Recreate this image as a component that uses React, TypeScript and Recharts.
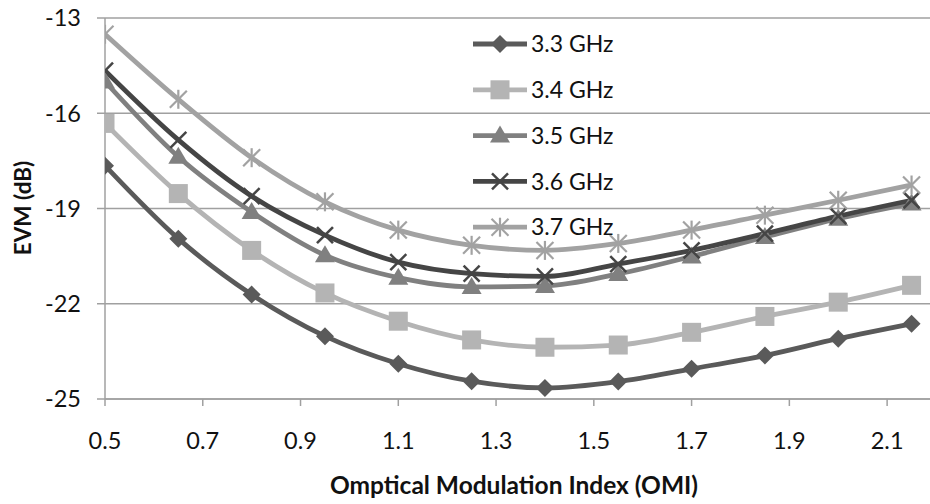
import React from "react";
import { LineChart, Line, XAxis, YAxis, CartesianGrid, Label } from "recharts";

const omi = [0.5, 0.65, 0.8, 0.95, 1.1, 1.25, 1.4, 1.55, 1.7, 1.85, 2.0, 2.15];
const evm33 = [-17.65, -19.95, -21.71, -23.02, -23.89, -24.44, -24.65, -24.45, -24.05, -23.63, -23.1, -22.63];
const evm34 = [-16.32, -18.53, -20.32, -21.66, -22.55, -23.14, -23.37, -23.3, -22.9, -22.4, -21.95, -21.42];
const evm35 = [-15.0, -17.37, -19.11, -20.47, -21.18, -21.47, -21.44, -21.06, -20.51, -19.9, -19.32, -18.84];
const evm36 = [-14.66, -16.84, -18.61, -19.84, -20.69, -21.05, -21.14, -20.75, -20.32, -19.79, -19.24, -18.74];
const evm37 = [-13.51, -15.56, -17.4, -18.79, -19.68, -20.16, -20.32, -20.1, -19.68, -19.21, -18.74, -18.26];

const seriesNames = ["3.3 GHz", "3.4 GHz", "3.5 GHz", "3.6 GHz", "3.7 GHz"];
const seriesKeys = ["s33", "s34", "s35", "s36", "s37"];
const seriesColors = ["#5a5a5a", "#b4b4b4", "#808080", "#454545", "#a2a2a2"];
const seriesShapes = ["diamond", "square", "triangle", "x", "star"];

const xTicks = [0.5, 0.7, 0.9, 1.1, 1.3, 1.5, 1.7, 1.9, 2.1];
const yTicks = [-25, -22, -19, -16, -13];

const data = omi.map((x, i) => ({
  x,
  s33: evm33[i],
  s34: evm34[i],
  s35: evm35[i],
  s36: evm36[i],
  s37: evm37[i],
}));

const FONT = "Lato, 'Open Sans', sans-serif";
const GRID = "#a0a0a0";

function Marker({ shape, cx, cy, color }: { shape: string; cx: number; cy: number; color: string }) {
  if (shape === "diamond") {
    const r = 9;
    return <polygon points={`${cx},${cy - r} ${cx + r},${cy} ${cx},${cy + r} ${cx - r},${cy}`} fill={color} />;
  }
  if (shape === "square") {
    const r = 9.5;
    return <rect x={cx - r} y={cy - r} width={2 * r} height={2 * r} fill={color} />;
  }
  if (shape === "triangle") {
    return <polygon points={`${cx},${cy - 10} ${cx + 10},${cy + 7} ${cx - 10},${cy + 7}`} fill={color} />;
  }
  if (shape === "x") {
    const r = 8;
    return (
      <g stroke={color} strokeWidth={2.5}>
        <line x1={cx - r} y1={cy - r} x2={cx + r} y2={cy + r} />
        <line x1={cx - r} y1={cy + r} x2={cx + r} y2={cy - r} />
      </g>
    );
  }
  const r = 8.5;
  return (
    <g stroke={color} strokeWidth={2.2}>
      <line x1={cx - r} y1={cy - r} x2={cx + r} y2={cy + r} />
      <line x1={cx - r} y1={cy + r} x2={cx + r} y2={cy - r} />
      <line x1={cx} y1={cy - r - 1} x2={cx} y2={cy + r + 1} />
    </g>
  );
}

const makeDot = (shape: string, color: string) => (props: any) => {
  const { cx, cy, index } = props;
  if (cx == null || cy == null) return <g key={index} />;
  return (
    <g key={index}>
      <Marker shape={shape} cx={cx} cy={cy} color={color} />
    </g>
  );
};

const XTick = (props: any) => {
  const { x, payload } = props;
  return (
    <text x={x} y={449} textAnchor="middle" fontFamily={FONT} fontSize={23.5} fill="#111">
      {payload.value}
    </text>
  );
};

const YTick = (props: any) => {
  const { y, payload } = props;
  return (
    <text x={81} y={y} dy="0.36em" textAnchor="end" fontFamily={FONT} fontSize={23.5} fill="#111">
      {payload.value}
    </text>
  );
};

export default function App() {
  const legendTop = 44;
  const legendStep = 45.8;
  return (
    <div
      style={{
        position: "absolute",
        left: 0,
        top: 0,
        width: 930,
        height: 504,
        overflow: "hidden",
        background: "#ffffff",
      }}
    >
      <LineChart width={940} height={504} data={data} margin={{ top: 18, right: 4, bottom: 0, left: 0 }}>
        <CartesianGrid horizontal={true} vertical={false} stroke={GRID} strokeWidth={1.5} />
        <XAxis
          dataKey="x"
          type="number"
          domain={[0.5, 2.2]}
          ticks={xTicks}
          interval={0}
          height={105}
          tickSize={7}
          stroke={GRID}
          strokeWidth={1.5}
          tick={<XTick />}
          allowDataOverflow
        >
          <Label
            content={() => (
              <text x={514} y={494} textAnchor="middle" fontFamily={FONT} fontSize={24.5} fontWeight={700} fill="#111">
                Omptical Modulation Index (OMI)
              </text>
            )}
          />
        </XAxis>
        <YAxis
          type="number"
          domain={[-25, -13]}
          ticks={yTicks}
          interval={0}
          width={105}
          tickSize={8}
          stroke={GRID}
          strokeWidth={1.5}
          tick={<YTick />}
        >
          <Label
            content={() => (
              <text
                x={31}
                y={208}
                transform="rotate(-90 31 208)"
                textAnchor="middle"
                fontFamily={FONT}
                fontSize={22.5}
                fontWeight={700}
                fill="#111"
              >
                EVM (dB)
              </text>
            )}
          />
        </YAxis>
        {seriesKeys.map((k, i) => (
          <Line
            key={k}
            dataKey={k}
            type="monotone"
            stroke={seriesColors[i]}
            strokeWidth={4.8}
            dot={makeDot(seriesShapes[i], seriesColors[i])}
            activeDot={false}
            isAnimationActive={false}
          />
        ))}
      </LineChart>
      <svg
        width={930}
        height={504}
        style={{ position: "absolute", left: 0, top: 0, pointerEvents: "none" }}
      >
        {seriesNames.map((name, i) => {
          const yc = legendTop + i * legendStep;
          return (
            <g key={name}>
              <line x1={473} y1={yc} x2={527} y2={yc} stroke={seriesColors[i]} strokeWidth={4.8} />
              <Marker shape={seriesShapes[i]} cx={500} cy={yc} color={seriesColors[i]} />
              <text x={531} y={yc} dy="0.36em" fontFamily={FONT} fontSize={23} fill="#111">
                {name}
              </text>
            </g>
          );
        })}
      </svg>
    </div>
  );
}
